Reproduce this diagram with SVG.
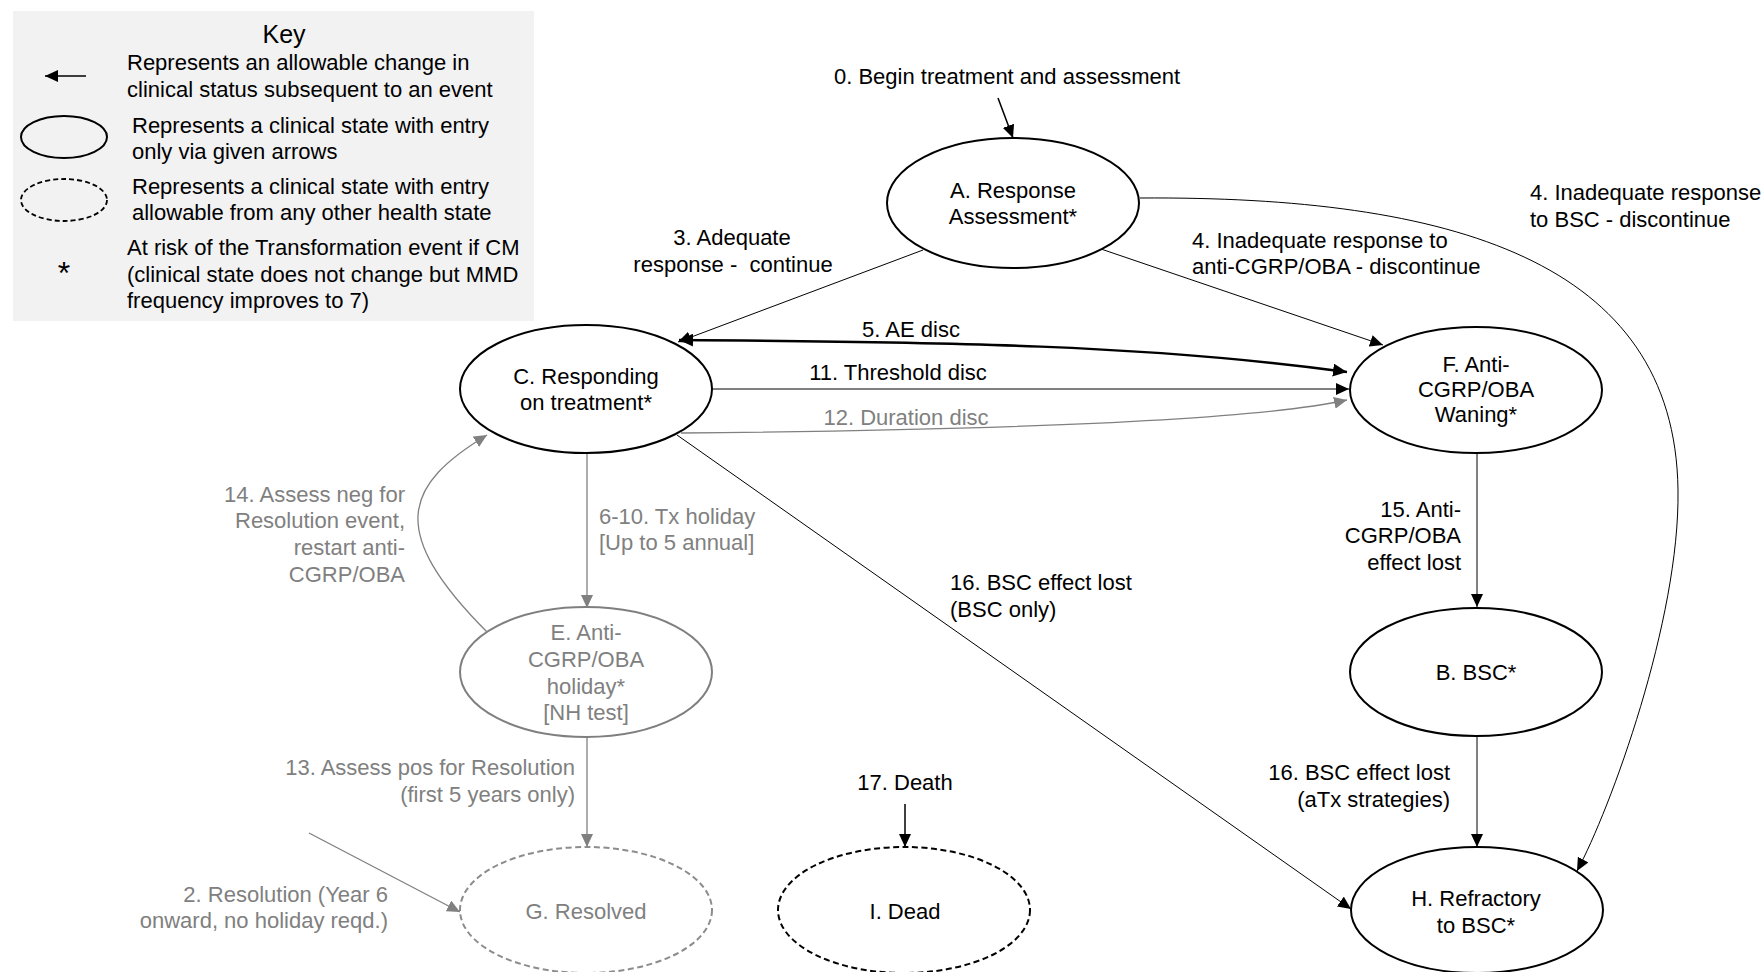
<svg xmlns="http://www.w3.org/2000/svg" width="1762" height="972" viewBox="0 0 1762 972">
<style>
text { font-family: "Liberation Sans", Arial, sans-serif; font-size: 22px; fill: #000; white-space: pre; }
.g { fill: #808080; }
.m { text-anchor: middle; }
.e { text-anchor: end; }
.node { fill: #fff; stroke: #000; stroke-width: 2; }
.gnode { fill: #fff; stroke: #7f7f7f; stroke-width: 2; }
.dnode { fill: #fff; stroke: #000; stroke-width: 2; stroke-dasharray: 6 3.5; }
.dgnode { fill: #fff; stroke: #8c8c8c; stroke-width: 2; stroke-dasharray: 6 3.5; }
.c { fill: none; stroke: #000; stroke-width: 1; marker-end: url(#ab); }
.cg { fill: none; stroke: #808080; stroke-width: 1.3; marker-end: url(#ag); }
</style>
<defs>
<marker id="ab" markerUnits="userSpaceOnUse" markerWidth="14" markerHeight="12" refX="13" refY="6" orient="auto"><path d="M0,0 L13,6 L0,12 z" fill="#000"/></marker>
<marker id="ag" markerUnits="userSpaceOnUse" markerWidth="14" markerHeight="12" refX="13" refY="6" orient="auto"><path d="M0,0 L13,6 L0,12 z" fill="#808080"/></marker>
<marker id="ab2" markerUnits="userSpaceOnUse" markerWidth="15" markerHeight="13" refX="14" refY="6.5" orient="auto-start-reverse"><path d="M0,0 L14,6.5 L0,13 z" fill="#000"/></marker>
</defs>

<g id="key">
<rect x="13" y="11" width="521" height="310" fill="#f2f2f2"/>
<text x="284" y="43" class="m" style="font-size:25px">Key</text>
<line x1="86" y1="76" x2="45" y2="76" stroke="#000" stroke-width="1.3" marker-end="url(#ab)"/>
<text x="127" y="70">Represents an allowable change in</text>
<text x="127" y="97">clinical status subsequent to an event</text>
<ellipse cx="64" cy="137" rx="43" ry="21" fill="none" stroke="#000" stroke-width="2"/>
<text x="132" y="133">Represents a clinical state with entry</text>
<text x="132" y="159">only via given arrows</text>
<ellipse cx="64" cy="200" rx="43" ry="21" fill="none" stroke="#000" stroke-width="1.8" stroke-dasharray="5 3"/>
<text x="132" y="194">Represents a clinical state with entry</text>
<text x="132" y="220">allowable from any other health state</text>
<text x="64" y="284" class="m" style="font-size:32px">*</text>
<text x="127" y="255">At risk of the Transformation event if CM</text>
<text x="127" y="282">(clinical state does not change but MMD</text>
<text x="127" y="308">frequency improves to 7)</text>
</g>

<g id="connectors">
<path d="M998,98 L1013,138" class="c" style="stroke-width:1.5"/>
<path d="M923,250 L678,342" class="c"/>
<path d="M1101,249 L1383,345" class="c"/>
<path d="M1140,198 C1450,196 1675,260 1678,490 C1680,620 1610,810 1577,871" class="c"/>
<path d="M679,340 C950,342 1150,345 1347,372" fill="none" stroke="#000" stroke-width="2.5" marker-start="url(#ab2)" marker-end="url(#ab2)"/>
<path d="M712,389 L1349,389" class="c"/>
<path d="M681,433 Q1220,428 1347,400" class="cg"/>
<path d="M587,453 L587,608" class="cg"/>
<path d="M488,633 C385,530 405,485 487,435" class="cg"/>
<path d="M587,737 L587,847" class="cg"/>
<path d="M309,833 L460,912" class="cg"/>
<path d="M677,435 L1351,909" class="c"/>
<path d="M1477,453 L1477,607" class="c"/>
<path d="M1477,736 L1477,847" class="c"/>
<path d="M905,804 L905,847" class="c" style="stroke-width:1.5"/>
<text x="1007" y="84" class="m">0. Begin treatment and assessment</text>
<text x="732" y="245" class="m">3. Adequate</text>
<text x="733" y="272" class="m">response -  continue</text>
<text x="1192" y="248">4. Inadequate response to</text>
<text x="1192" y="274">anti-CGRP/OBA - discontinue</text>
<text x="1530" y="200">4. Inadequate response</text>
<text x="1530" y="227">to BSC - discontinue</text>
<text x="911" y="337" class="m">5. AE disc</text>
<text x="898" y="380" class="m">11. Threshold disc</text>
<text x="906" y="425" class="m g">12. Duration disc</text>
<text x="599" y="524" class="g">6-10. Tx holiday</text>
<text x="599" y="550" class="g">[Up to 5 annual]</text>
<text x="405" y="502" class="e g">14. Assess neg for</text>
<text x="405" y="528" class="e g">Resolution event,</text>
<text x="405" y="555" class="e g">restart anti-</text>
<text x="405" y="582" class="e g">CGRP/OBA</text>
<text x="1461" y="517" class="e">15. Anti-</text>
<text x="1461" y="543" class="e">CGRP/OBA</text>
<text x="1461" y="570" class="e">effect lost</text>
<text x="950" y="590">16. BSC effect lost</text>
<text x="950" y="617">(BSC only)</text>
<text x="575" y="775" class="e g">13. Assess pos for Resolution</text>
<text x="575" y="802" class="e g">(first 5 years only)</text>
<text x="905" y="790" class="m">17. Death</text>
<text x="1450" y="780" class="e">16. BSC effect lost</text>
<text x="1450" y="807" class="e">(aTx strategies)</text>
<text x="388" y="902" class="e g">2. Resolution (Year 6</text>
<text x="388" y="928" class="e g">onward, no holiday reqd.)</text>
</g>

<g id="nodeA">
<ellipse cx="1013" cy="203" rx="126" ry="65" class="node"/>
<text x="1013" y="198" class="m">A. Response</text>
<text x="1013" y="224" class="m">Assessment*</text>
</g>
<g id="nodeC">
<ellipse cx="586" cy="389" rx="126" ry="64" class="node"/>
<text x="586" y="384" class="m">C. Responding</text>
<text x="586" y="410" class="m">on treatment*</text>
</g>
<g id="nodeF">
<ellipse cx="1476" cy="390" rx="126" ry="63" class="node"/>
<text x="1476" y="372" class="m">F. Anti-</text>
<text x="1476" y="397" class="m">CGRP/OBA</text>
<text x="1476" y="422" class="m">Waning*</text>
</g>
<g id="nodeE">
<ellipse cx="586" cy="672" rx="126" ry="65" class="gnode"/>
<text x="586" y="640" class="m g">E. Anti-</text>
<text x="586" y="667" class="m g">CGRP/OBA</text>
<text x="586" y="694" class="m g">holiday*</text>
<text x="586" y="720" class="m g">[NH test]</text>
</g>
<g id="nodeB">
<ellipse cx="1476" cy="672" rx="126" ry="64" class="node"/>
<text x="1476" y="680" class="m">B. BSC*</text>
</g>
<g id="nodeG">
<ellipse cx="586" cy="910" rx="126" ry="63" class="dgnode"/>
<text x="586" y="919" class="m g">G. Resolved</text>
</g>
<g id="nodeI">
<ellipse cx="904" cy="910" rx="126" ry="63" class="dnode"/>
<text x="905" y="919" class="m">I. Dead</text>
</g>
<g id="nodeH">
<ellipse cx="1477" cy="910" rx="126" ry="63" class="node"/>
<text x="1476" y="906" class="m">H. Refractory</text>
<text x="1476" y="933" class="m">to BSC*</text>
</g>
</svg>
